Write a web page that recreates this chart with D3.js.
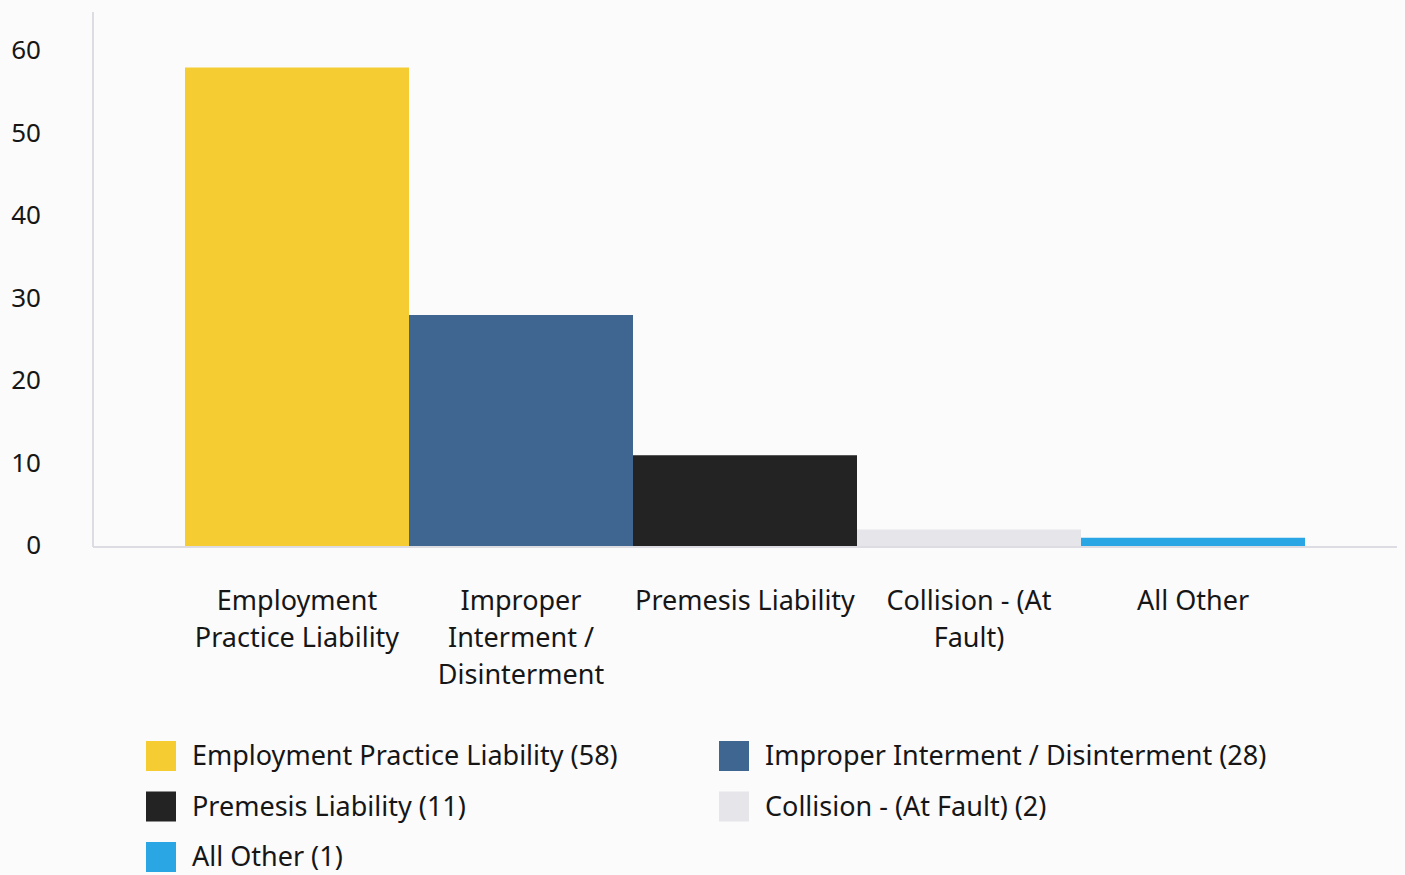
<!DOCTYPE html>
<html>
<head>
<meta charset="utf-8">
<script src="https://cdn.jsdelivr.net/npm/d3@7"></script>
<style>
  body { margin: 0; background: #fbfbfc; }
  svg { display: block; font-family: "Noto Sans", "Open Sans", sans-serif; }
</style>
</head>
<body>
<svg id="chart" width="1405" height="875"></svg>
<script>
// data
const categories = [
  'Employment Practice Liability',
  'Improper Interment / Disinterment',
  'Premesis Liability',
  'Collision - (At Fault)',
  'All Other'
];
const claimCounts = [58, 28, 11, 2, 1];
const barColors = ['#f5cd32', '#3f6690', '#232323', '#e5e5ea', '#2ba6e4'];
const axisLabelLines = [
  ['Employment', 'Practice Liability'],
  ['Improper', 'Interment /', 'Disinterment'],
  ['Premesis Liability'],
  ['Collision - (At', 'Fault)'],
  ['All Other']
];
const yTicks = [0, 10, 20, 30, 40, 50, 60];

const svg = d3.select('#chart');

// plot geometry
const plotBase = 546;
const plotTop = 51;

const x = d3.scaleBand()
  .domain(categories)
  .range([185, 1305])
  .padding(0);

const y = d3.scaleLinear()
  .domain([0, 60])
  .range([plotBase, plotTop]);

// axis lines
svg.append('line')
  .attr('x1', 93).attr('x2', 93)
  .attr('y1', 12).attr('y2', plotBase + 1)
  .attr('stroke', '#dcdce2').attr('stroke-width', 2);
svg.append('line')
  .attr('x1', 93).attr('x2', 1397)
  .attr('y1', plotBase + 1).attr('y2', plotBase + 1)
  .attr('stroke', '#dcdce2').attr('stroke-width', 2);

// y tick labels
svg.append('g')
  .selectAll('text')
  .data(yTicks)
  .enter()
  .append('text')
  .attr('x', 41)
  .attr('y', d => y(d) - 1)
  .attr('dy', '0.35em')
  .attr('text-anchor', 'end')
  .attr('font-size', 26)
  .attr('fill', '#161616')
  .text(d => d);

// bars
svg.append('g')
  .selectAll('rect')
  .data(categories)
  .enter()
  .append('rect')
  .attr('x', d => x(d))
  .attr('y', (d, i) => y(claimCounts[i]))
  .attr('width', x.bandwidth())
  .attr('height', (d, i) => plotBase - y(claimCounts[i]))
  .attr('fill', (d, i) => barColors[i]);

// category labels
const catLabel = svg.append('g')
  .selectAll('text')
  .data(categories)
  .enter()
  .append('text')
  .attr('text-anchor', 'middle')
  .attr('font-size', 27)
  .attr('fill', '#161616');
catLabel.each(function(d, i) {
  d3.select(this)
    .selectAll('tspan')
    .data(axisLabelLines[i])
    .enter()
    .append('tspan')
    .attr('x', x(d) + x.bandwidth() / 2)
    .attr('y', (l, j) => 601 + j * 37)
    .attr('dy', '0.35em')
    .text(l => l);
});

// legend, two columns
const legend = svg.append('g')
  .selectAll('g')
  .data(categories)
  .enter()
  .append('g')
  .attr('transform', (d, i) => {
    let col = i % 2;
    let row = Math.floor(i / 2);
    return `translate(${col ? 719 : 146}, ${741 + row * 50.5})`;
  });
legend.append('rect')
  .attr('width', 30)
  .attr('height', 30)
  .attr('fill', (d, i) => barColors[i]);
legend.append('text')
  .attr('x', 46)
  .attr('y', 15)
  .attr('dy', '0.35em')
  .attr('font-size', 27)
  .attr('fill', '#161616')
  .text((d, i) => `${d} (${claimCounts[i]})`);
</script>
</body>
</html>
